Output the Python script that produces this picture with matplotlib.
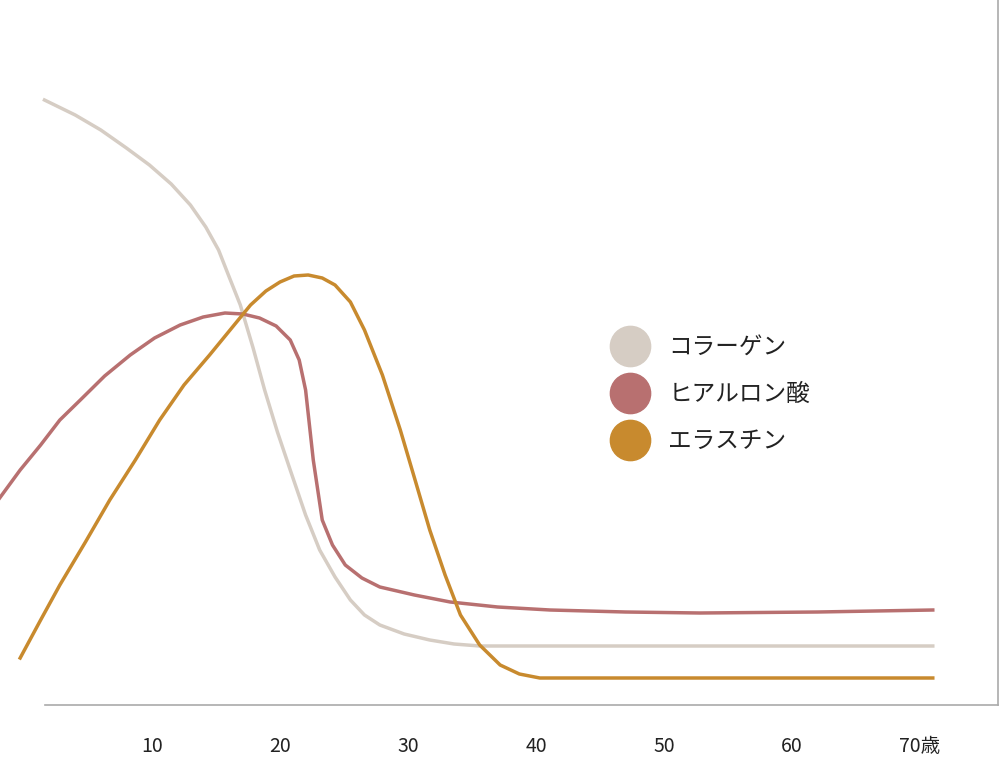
import matplotlib.pyplot as plt
from matplotlib.lines import Line2D

plt.rcParams['font.family'] = ['Noto Sans CJK JP', 'DejaVu Sans']

# ages (years) and relative amounts
col_x = [1.6, 4, 6, 8, 9.8, 11.5, 13, 14.2, 15.2, 16, 16.9, 17.9, 18.8, 19.8, 20.8, 22, 23.1, 24.3, 25.5, 26.6, 27.8, 29.7, 31.7, 33.6, 35.6, 40, 71]
col_y = [660, 645, 630, 612, 595, 576, 555, 533, 510, 484, 455, 412, 370, 328, 290, 245, 210, 183, 160, 145, 135, 126, 120, 116, 114, 114, 114]

hya_x = [-1.9, -0.3, 1.3, 2.8, 4.4, 6.3, 8.3, 10.2, 12.2, 14, 15.7, 17.1, 18.4, 19.7, 20.8, 21.5, 22, 22.3, 22.6, 23.3, 24.1, 25.1, 26.4, 27.8, 30.5, 33.3, 37, 41.1, 47, 52.8, 62, 71]
hya_y = [262, 290, 315, 340, 360, 384, 405, 422, 435, 443, 447, 446, 442, 434, 420, 400, 370, 335, 300, 240, 215, 195, 182, 173, 165, 158, 153, 150, 148, 147, 148, 150]

ela_x = [-0.3, 1.3, 2.8, 4.8, 6.7, 8.7, 10.6, 12.5, 14.5, 16.1, 17.7, 18.9, 20, 21.1, 22.2, 23.3, 24.3, 25.5, 26.6, 28, 29.4, 30.6, 31.7, 32.9, 34.1, 35.6, 37.2, 38.7, 40.3, 50, 71]
ela_y = [102, 140, 175, 218, 260, 300, 340, 375, 405, 430, 455, 469, 478, 484, 485, 482, 475, 458, 430, 385, 330, 278, 230, 185, 145, 115, 95, 86, 82, 82, 82]

labels = ['コラーゲン', 'ヒアルロン酸', 'エラスチン']
colors = ['#d6cdc4', '#b87070', '#c88a2e']
ticks = [10, 20, 30, 40, 50, 60, 70]
tick_labels = ['10', '20', '30', '40', '50', '60', '70歳']

fig = plt.figure(figsize=(10.01, 7.6), dpi=100)
ax = fig.add_axes([0, 0, 1, 1])
ax.plot(col_x, col_y, color=colors[0], lw=2.5)
ax.plot(hya_x, hya_y, color=colors[1], lw=2.5)
ax.plot(ela_x, ela_y, color=colors[2], lw=2.5)

ax.set_xlim(-1.875, 76.33)
ax.set_ylim(0, 760)
for s in ['top', 'left']:
    ax.spines[s].set_visible(False)
ax.spines['bottom'].set_position(('data', 55))
ax.spines['bottom'].set_bounds(1.64, 76.1)
ax.spines['right'].set_position(('data', 76.1))
ax.spines['right'].set_bounds(55, 760)
for s in ['bottom', 'right']:
    ax.spines[s].set_color('#aaaaaa')
    ax.spines[s].set_linewidth(1.2)
ax.set_xticks(ticks)
ax.set_xticklabels(tick_labels, fontsize=14)
ax.tick_params(axis='x', length=0, pad=22, colors='#222222')
ax.set_yticks([])

handles = [Line2D([], [], marker='o', ls='', markersize=29, color=c) for c in colors]
leg = ax.legend(handles, labels, loc='upper left', bbox_to_anchor=(0.585, 0.585),
                frameon=False, fontsize=17, labelspacing=1.0, handletextpad=0.6)
for t in leg.get_texts():
    t.set_color('#222222')

plt.savefig('out.png')
